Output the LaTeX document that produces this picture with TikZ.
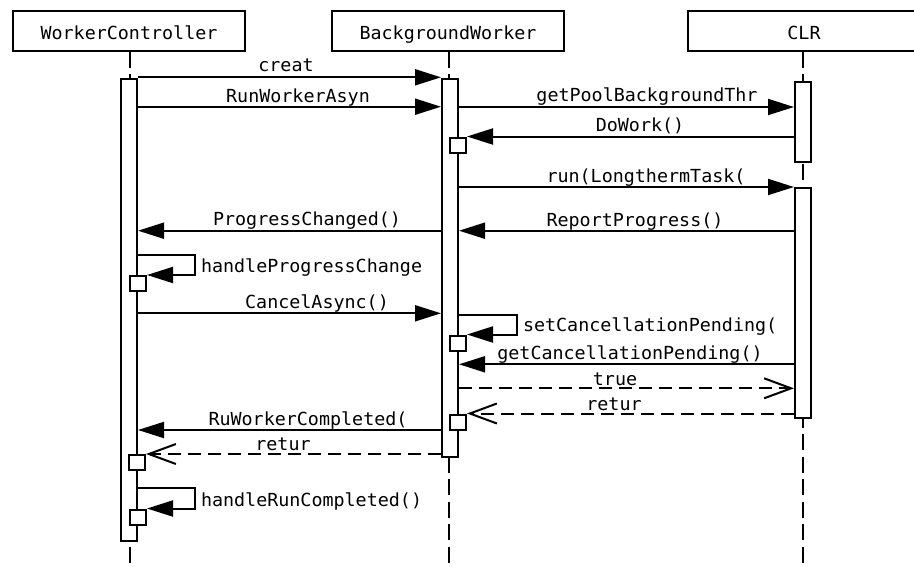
\documentclass[tikz,border=0pt]{standalone}
\usepackage{fontspec}
\setmonofont[FakeStretch=1.02]{DejaVu Sans Mono}
\usetikzlibrary{arrows.meta}
\begin{document}
\begin{tikzpicture}[x=1pt, y=-1pt, line width=2pt,
  every node/.style={font=\ttfamily\fontsize{18}{21}\selectfont},
  head/.style={draw, fill=white, minimum width=232pt, minimum height=40pt,
    inner sep=0pt, text height=18pt, text depth=0pt},
  lifeline/.style={line width=1.7pt, dash pattern=on 16pt off 6.5pt},
  bar/.style={draw, fill=white, minimum width=16pt, inner sep=0pt, anchor=north},
  sbox/.style={draw, fill=white, minimum width=16pt, minimum height=15pt,
    inner sep=0pt, anchor=north},
  msg/.style={-{Triangle[length=26pt, width=16pt]}},
  ret/.style={dash pattern=on 13pt off 7pt, -{Straight Barb[length=27pt, width=20pt]}},
  lbl/.style={anchor=base, inner sep=0pt},
  lbll/.style={anchor=base west, inner sep=0pt}]
\clip (0,0) rectangle (914,566);
\fill[white] (0,0) rectangle (914,566);

% participants
\node[head] (wc)  at (129,30.5) {WorkerController};
\node[head] (bw)  at (448,30.5) {BackgroundWorker};
\node[head] (clr) at (804,30.5) {CLR};

% lifelines
\draw[lifeline] (wc.south -| 130,0)  -- (130,566);
\draw[lifeline] (bw.south -| 449,0)  -- (449,566);
\draw[lifeline] (clr.south -| 803,0) -- (803,566);

% activation bars
\node[bar, minimum height=462pt] (wcbar)   at (129,78)  {};
\node[bar, minimum height=378pt] (bwbar)   at (450,78)  {};
\node[bar, minimum height=80pt]  (clrbar1) at (803,81)  {};
\node[bar, minimum height=230pt] (clrbar2) at (803,187) {};

% nested activation boxes
\node[sbox] (bwbox1) at (458,136.5) {};
\node[sbox] (wcbox1) at (138,275)   {};
\node[sbox] (bwbox2) at (458,334.5) {};
\node[sbox] (bwbox3) at (458,413.5) {};
\node[sbox] (wcbox2) at (137,454)   {};
\node[sbox] (wcbox3) at (138,508.5) {};

% messages
\draw[msg] (wcbar.east |- 0,77.3) -- (bwbar.west |- 0,77.3);
\node[lbl] (lcreat) at (286,71.3) {creat};

\draw[msg] (wcbar.east |- 0,106.7) -- (bwbar.west |- 0,106.7);
\node[lbl] (lrun) at (298,102.2) {RunWorkerAsyn};

\draw[msg] (bwbar.east |- 0,107) -- (clrbar1.west |- 0,107);
\node[lbl] (lpool) at (647,101.5) {getPoolBackgroundThr};

\draw[msg] (clrbar1.west |- 0,136.5) -- (bwbox1.north east);
\node[lbl] (ldowork) at (640,131.2) {DoWork()};

\draw[msg] (bwbar.east |- 0,187) -- (clrbar2.west |- 0,187);
\node[lbl] (llong) at (646,182.8) {run(LongthermTask(};

\draw[msg] (clrbar2.west |- 0,230.7) -- (bwbar.east |- 0,230.7);
\node[lbl] (lreport) at (635,226.2) {ReportProgress()};

\draw[msg] (bwbar.west |- 0,230.7) -- (wcbar.east |- 0,230.7);
\node[lbl] (lprog) at (307,225.7) {ProgressChanged()};

\draw[msg] (wcbar.east |- 0,254.7) -- (195,254.7) -- (195,275) -- (wcbox1.north east);
\node[lbll] (lhpc) at (200,272.7) {handleProgressChange};

\draw[msg] (wcbar.east |- 0,313.3) -- (bwbar.west |- 0,313.3);
\node[lbl] (lcancel) at (317,308.7) {CancelAsync()};

\draw[msg] (bwbar.east |- 0,315) -- (517,315) -- (517,334.5) -- (bwbox2.north east);
\node[lbll] (lscp) at (522,331.7) {setCancellationPending(};

\draw[msg] (clrbar2.west |- 0,364.3) -- (bwbar.east |- 0,364.3);
\node[lbl] (lgcp) at (630,359.7) {getCancellationPending()};

\draw[ret] (bwbar.east |- 0,388.3) -- (clrbar2.west |- 0,388.3);
\node[lbl] (ltrue) at (615,385) {true};

\draw[ret] (clrbar2.west |- 0,413.5) -- (bwbox3.north east);
\node[lbl] (lret1) at (614,410) {retur};

\draw[msg] (bwbar.west |- 0,430) -- (wcbar.east |- 0,430);
\node[lbl] (lrwc) at (308,425) {RuWorkerCompleted(};

\draw[ret] (bwbar.west |- 0,454) -- (wcbox2.north east);
\node[lbl] (lret2) at (283,450) {retur};

\draw[msg] (wcbar.east |- 0,488.3) -- (195,488.3) -- (195,508.5) -- (wcbox3.north east);
\node[lbll] (lhrc) at (200,506.7) {handleRunCompleted()};
\end{tikzpicture}
\end{document}
